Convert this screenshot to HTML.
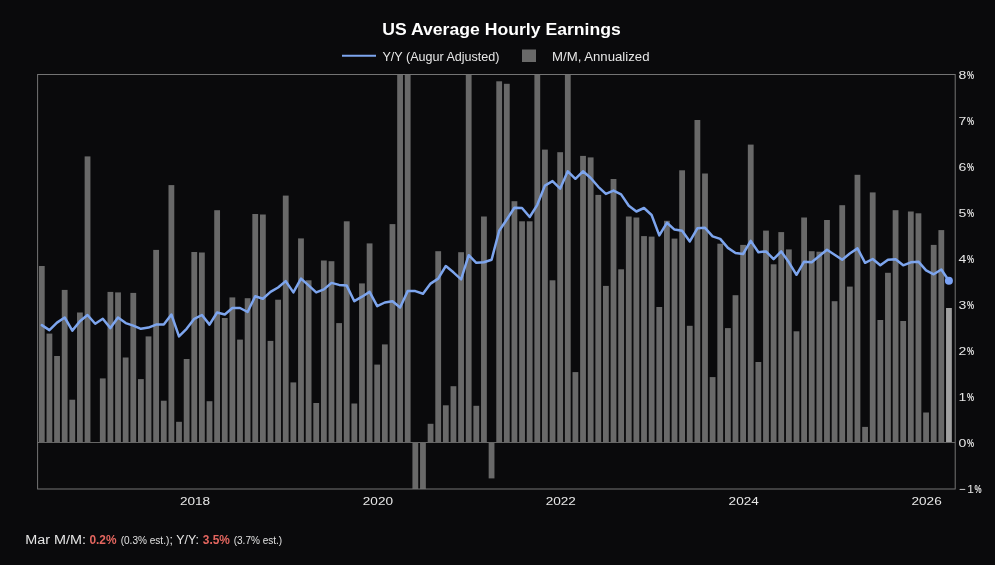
<!DOCTYPE html>
<html><head><meta charset="utf-8"><title>US Average Hourly Earnings</title>
<style>
html,body{margin:0;padding:0;background:#0a0a0c;}
body{width:995px;height:565px;overflow:hidden;font-family:"Liberation Sans", sans-serif;}
svg{display:block}
text{font-family:"Liberation Sans", sans-serif;}
.ax{font-size:11.6px;fill:#e6e6e6;}
.pc{font-weight:bold;}
.title{font-size:17px;font-weight:bold;fill:#ffffff;}
.lg{font-size:13px;fill:#e6e6e6;}
.ft{font-size:12.5px;fill:#e6e6e6;}
.red{fill:#e4665f;font-weight:bold;}
.sm{font-size:10px;fill:#e0e0e0;}
</style></head><body>
<svg width="995" height="565" viewBox="0 0 995 565">
<rect width="995" height="565" fill="#0a0a0c"/>
<text x="501.5" y="34.5" text-anchor="middle" class="title" textLength="238.5" lengthAdjust="spacingAndGlyphs">US Average Hourly Earnings</text>
<line x1="342" y1="55.8" x2="376" y2="55.8" stroke="#7da5ee" stroke-width="2"/>
<text x="382.5" y="60.5" class="lg" textLength="117" lengthAdjust="spacingAndGlyphs">Y/Y (Augur Adjusted)</text>
<rect x="522" y="49.5" width="14" height="12.5" fill="#696969"/>
<text x="552" y="60.5" class="lg" textLength="97.5" lengthAdjust="spacingAndGlyphs">M/M, Annualized</text>
<g shape-rendering="auto">
<rect x="38.90" y="266.00" width="5.8" height="176.50" fill="#696969"/>
<rect x="46.52" y="333.60" width="5.8" height="108.90" fill="#696969"/>
<rect x="54.15" y="356.00" width="5.8" height="86.50" fill="#696969"/>
<rect x="61.77" y="289.90" width="5.8" height="152.60" fill="#696969"/>
<rect x="69.39" y="399.70" width="5.8" height="42.80" fill="#696969"/>
<rect x="77.01" y="312.50" width="5.8" height="130.00" fill="#696969"/>
<rect x="84.64" y="156.40" width="5.8" height="286.10" fill="#696969"/>
<rect x="99.88" y="378.40" width="5.8" height="64.10" fill="#696969"/>
<rect x="107.51" y="291.90" width="5.8" height="150.60" fill="#696969"/>
<rect x="115.13" y="292.40" width="5.8" height="150.10" fill="#696969"/>
<rect x="122.75" y="357.50" width="5.8" height="85.00" fill="#696969"/>
<rect x="130.38" y="292.90" width="5.8" height="149.60" fill="#696969"/>
<rect x="138.00" y="379.10" width="5.8" height="63.40" fill="#696969"/>
<rect x="145.62" y="336.40" width="5.8" height="106.10" fill="#696969"/>
<rect x="153.24" y="249.90" width="5.8" height="192.60" fill="#696969"/>
<rect x="160.87" y="400.70" width="5.8" height="41.80" fill="#696969"/>
<rect x="168.49" y="185.10" width="5.8" height="257.40" fill="#696969"/>
<rect x="176.11" y="421.80" width="5.8" height="20.70" fill="#696969"/>
<rect x="183.74" y="359.00" width="5.8" height="83.50" fill="#696969"/>
<rect x="191.36" y="252.00" width="5.8" height="190.50" fill="#696969"/>
<rect x="198.98" y="252.50" width="5.8" height="190.00" fill="#696969"/>
<rect x="206.61" y="401.20" width="5.8" height="41.30" fill="#696969"/>
<rect x="214.23" y="210.20" width="5.8" height="232.30" fill="#696969"/>
<rect x="221.85" y="318.00" width="5.8" height="124.50" fill="#696969"/>
<rect x="229.47" y="297.40" width="5.8" height="145.10" fill="#696969"/>
<rect x="237.10" y="339.60" width="5.8" height="102.90" fill="#696969"/>
<rect x="244.72" y="298.20" width="5.8" height="144.30" fill="#696969"/>
<rect x="252.34" y="214.00" width="5.8" height="228.50" fill="#696969"/>
<rect x="259.97" y="214.50" width="5.8" height="228.00" fill="#696969"/>
<rect x="267.59" y="340.90" width="5.8" height="101.60" fill="#696969"/>
<rect x="275.21" y="299.70" width="5.8" height="142.80" fill="#696969"/>
<rect x="282.84" y="195.60" width="5.8" height="246.90" fill="#696969"/>
<rect x="290.46" y="382.40" width="5.8" height="60.10" fill="#696969"/>
<rect x="298.08" y="238.40" width="5.8" height="204.10" fill="#696969"/>
<rect x="305.71" y="280.30" width="5.8" height="162.20" fill="#696969"/>
<rect x="313.33" y="403.00" width="5.8" height="39.50" fill="#696969"/>
<rect x="320.95" y="260.50" width="5.8" height="182.00" fill="#696969"/>
<rect x="328.57" y="261.20" width="5.8" height="181.30" fill="#696969"/>
<rect x="336.20" y="323.10" width="5.8" height="119.40" fill="#696969"/>
<rect x="343.82" y="221.30" width="5.8" height="221.20" fill="#696969"/>
<rect x="351.44" y="403.50" width="5.8" height="39.00" fill="#696969"/>
<rect x="359.07" y="283.40" width="5.8" height="159.10" fill="#696969"/>
<rect x="366.69" y="243.40" width="5.8" height="199.10" fill="#696969"/>
<rect x="374.31" y="364.60" width="5.8" height="77.90" fill="#696969"/>
<rect x="381.94" y="344.40" width="5.8" height="98.10" fill="#696969"/>
<rect x="389.56" y="224.10" width="5.8" height="218.40" fill="#696969"/>
<rect x="397.18" y="74.50" width="5.8" height="368.00" fill="#696969"/>
<rect x="404.80" y="74.50" width="5.8" height="368.00" fill="#696969"/>
<rect x="412.43" y="442.50" width="5.8" height="46.50" fill="#696969"/>
<rect x="420.05" y="442.50" width="5.8" height="46.50" fill="#696969"/>
<rect x="427.67" y="423.80" width="5.8" height="18.70" fill="#696969"/>
<rect x="435.30" y="251.20" width="5.8" height="191.30" fill="#696969"/>
<rect x="442.92" y="405.30" width="5.8" height="37.20" fill="#696969"/>
<rect x="450.54" y="386.20" width="5.8" height="56.30" fill="#696969"/>
<rect x="458.17" y="252.20" width="5.8" height="190.30" fill="#696969"/>
<rect x="465.79" y="74.50" width="5.8" height="368.00" fill="#696969"/>
<rect x="473.41" y="405.80" width="5.8" height="36.70" fill="#696969"/>
<rect x="481.03" y="216.50" width="5.8" height="226.00" fill="#696969"/>
<rect x="488.66" y="442.50" width="5.8" height="35.90" fill="#696969"/>
<rect x="496.28" y="81.30" width="5.8" height="361.20" fill="#696969"/>
<rect x="503.90" y="83.80" width="5.8" height="358.70" fill="#696969"/>
<rect x="511.53" y="201.20" width="5.8" height="241.30" fill="#696969"/>
<rect x="519.15" y="221.30" width="5.8" height="221.20" fill="#696969"/>
<rect x="526.77" y="221.30" width="5.8" height="221.20" fill="#696969"/>
<rect x="534.39" y="74.50" width="5.8" height="368.00" fill="#696969"/>
<rect x="542.02" y="149.60" width="5.8" height="292.90" fill="#696969"/>
<rect x="549.64" y="280.30" width="5.8" height="162.20" fill="#696969"/>
<rect x="557.26" y="152.20" width="5.8" height="290.30" fill="#696969"/>
<rect x="564.89" y="74.50" width="5.8" height="368.00" fill="#696969"/>
<rect x="572.51" y="372.10" width="5.8" height="70.40" fill="#696969"/>
<rect x="580.13" y="155.90" width="5.8" height="286.60" fill="#696969"/>
<rect x="587.76" y="157.40" width="5.8" height="285.10" fill="#696969"/>
<rect x="595.38" y="194.90" width="5.8" height="247.60" fill="#696969"/>
<rect x="603.00" y="285.90" width="5.8" height="156.60" fill="#696969"/>
<rect x="610.62" y="179.00" width="5.8" height="263.50" fill="#696969"/>
<rect x="618.25" y="269.30" width="5.8" height="173.20" fill="#696969"/>
<rect x="625.87" y="216.50" width="5.8" height="226.00" fill="#696969"/>
<rect x="633.49" y="217.50" width="5.8" height="225.00" fill="#696969"/>
<rect x="641.12" y="236.10" width="5.8" height="206.40" fill="#696969"/>
<rect x="648.74" y="236.60" width="5.8" height="205.90" fill="#696969"/>
<rect x="656.36" y="307.00" width="5.8" height="135.50" fill="#696969"/>
<rect x="663.99" y="220.80" width="5.8" height="221.70" fill="#696969"/>
<rect x="671.61" y="238.60" width="5.8" height="203.90" fill="#696969"/>
<rect x="679.23" y="170.30" width="5.8" height="272.20" fill="#696969"/>
<rect x="686.86" y="325.80" width="5.8" height="116.70" fill="#696969"/>
<rect x="694.48" y="120.00" width="5.8" height="322.50" fill="#696969"/>
<rect x="702.10" y="173.50" width="5.8" height="269.00" fill="#696969"/>
<rect x="709.72" y="377.10" width="5.8" height="65.40" fill="#696969"/>
<rect x="717.35" y="243.70" width="5.8" height="198.80" fill="#696969"/>
<rect x="724.97" y="328.10" width="5.8" height="114.40" fill="#696969"/>
<rect x="732.59" y="295.20" width="5.8" height="147.30" fill="#696969"/>
<rect x="740.22" y="244.90" width="5.8" height="197.60" fill="#696969"/>
<rect x="747.84" y="144.60" width="5.8" height="297.90" fill="#696969"/>
<rect x="755.46" y="362.00" width="5.8" height="80.50" fill="#696969"/>
<rect x="763.09" y="230.60" width="5.8" height="211.90" fill="#696969"/>
<rect x="770.71" y="264.30" width="5.8" height="178.20" fill="#696969"/>
<rect x="778.33" y="232.10" width="5.8" height="210.40" fill="#696969"/>
<rect x="785.95" y="249.40" width="5.8" height="193.10" fill="#696969"/>
<rect x="793.58" y="331.30" width="5.8" height="111.20" fill="#696969"/>
<rect x="801.20" y="217.50" width="5.8" height="225.00" fill="#696969"/>
<rect x="808.82" y="251.20" width="5.8" height="191.30" fill="#696969"/>
<rect x="816.45" y="251.70" width="5.8" height="190.80" fill="#696969"/>
<rect x="824.07" y="220.00" width="5.8" height="222.50" fill="#696969"/>
<rect x="831.69" y="301.20" width="5.8" height="141.30" fill="#696969"/>
<rect x="839.32" y="205.20" width="5.8" height="237.30" fill="#696969"/>
<rect x="846.94" y="286.60" width="5.8" height="155.90" fill="#696969"/>
<rect x="854.56" y="174.80" width="5.8" height="267.70" fill="#696969"/>
<rect x="862.18" y="426.90" width="5.8" height="15.60" fill="#696969"/>
<rect x="869.81" y="192.40" width="5.8" height="250.10" fill="#696969"/>
<rect x="877.43" y="320.00" width="5.8" height="122.50" fill="#696969"/>
<rect x="885.05" y="272.80" width="5.8" height="169.70" fill="#696969"/>
<rect x="892.68" y="210.20" width="5.8" height="232.30" fill="#696969"/>
<rect x="900.30" y="321.00" width="5.8" height="121.50" fill="#696969"/>
<rect x="907.92" y="211.50" width="5.8" height="231.00" fill="#696969"/>
<rect x="915.54" y="213.30" width="5.8" height="229.20" fill="#696969"/>
<rect x="923.17" y="412.50" width="5.8" height="30.00" fill="#696969"/>
<rect x="930.79" y="244.90" width="5.8" height="197.60" fill="#696969"/>
<rect x="938.41" y="230.10" width="5.8" height="212.40" fill="#696969"/>
<rect x="946.04" y="308.00" width="5.8" height="134.50" fill="#a0a0a0"/>
</g>
<line x1="37.6" y1="442.5" x2="955.2" y2="442.5" stroke="#666666" stroke-width="1"/>
<rect x="37.6" y="74.5" width="917.6" height="414.5" fill="none" stroke="#747474" stroke-width="1"/>
<polyline points="41.8,325.1 49.4,330.1 57.0,322.6 64.7,317.5 72.3,330.6 79.9,321.3 87.5,315.0 95.2,323.8 102.8,318.8 110.4,328.1 118.0,317.5 125.7,323.1 133.3,325.6 140.9,328.8 148.5,327.6 156.1,324.6 163.8,324.6 171.4,314.5 179.0,336.4 186.6,328.8 194.3,318.8 201.9,315.0 209.5,324.6 217.1,312.5 224.8,314.5 232.4,308.0 240.0,308.0 247.6,312.0 255.2,296.2 262.9,298.7 270.5,291.9 278.1,287.5 285.7,281.1 293.4,292.4 301.0,278.6 308.6,285.4 316.2,292.4 323.9,289.4 331.5,282.9 339.1,284.9 346.7,285.6 354.3,301.2 362.0,296.7 369.6,291.9 377.2,306.2 384.8,302.5 392.5,301.2 400.1,307.5 407.7,291.1 415.3,291.1 423.0,293.7 430.6,283.6 438.2,278.6 445.8,266.0 453.4,272.3 461.1,279.3 468.7,255.2 476.3,262.8 483.9,262.3 491.6,259.7 499.2,230.8 506.8,219.5 514.4,207.8 522.0,208.0 529.7,217.0 537.3,204.8 544.9,185.6 552.5,181.1 560.2,188.6 567.8,171.3 575.4,178.8 583.0,171.3 590.7,178.0 598.3,186.8 605.9,193.9 613.5,190.6 621.1,194.4 628.8,205.7 636.4,211.5 644.0,208.0 651.6,215.0 659.3,235.4 666.9,222.8 674.5,229.6 682.1,230.8 689.8,241.4 697.4,228.3 705.0,227.8 712.6,236.4 720.2,238.9 727.9,247.9 735.5,253.0 743.1,254.0 750.7,240.9 758.4,252.2 766.0,251.4 773.6,259.2 781.2,251.4 788.9,262.3 796.5,274.8 804.1,261.7 811.7,262.3 819.3,256.0 827.0,249.7 834.6,254.7 842.2,259.7 849.8,253.5 857.5,248.4 865.1,262.8 872.7,259.0 880.3,265.3 888.0,259.7 895.6,259.2 903.2,265.3 910.8,262.3 918.4,261.7 926.1,270.4 933.7,274.3 941.3,269.5 948.9,280.8" fill="none" stroke="#7da5ee" stroke-width="2.5" stroke-linejoin="round" stroke-linecap="round"/>
<circle cx="948.9" cy="280.8" r="4" fill="#7aa2f5"/>
<text y="79.3" class="ax"><tspan x="958.5" textLength="7.8" lengthAdjust="spacingAndGlyphs">8</tspan><tspan x="966.9" class="pc" textLength="7.1" lengthAdjust="spacingAndGlyphs">%</tspan></text>
<text y="125.3" class="ax"><tspan x="958.5" textLength="7.8" lengthAdjust="spacingAndGlyphs">7</tspan><tspan x="966.9" class="pc" textLength="7.1" lengthAdjust="spacingAndGlyphs">%</tspan></text>
<text y="171.3" class="ax"><tspan x="958.5" textLength="7.8" lengthAdjust="spacingAndGlyphs">6</tspan><tspan x="966.9" class="pc" textLength="7.1" lengthAdjust="spacingAndGlyphs">%</tspan></text>
<text y="217.3" class="ax"><tspan x="958.5" textLength="7.8" lengthAdjust="spacingAndGlyphs">5</tspan><tspan x="966.9" class="pc" textLength="7.1" lengthAdjust="spacingAndGlyphs">%</tspan></text>
<text y="263.3" class="ax"><tspan x="958.5" textLength="7.8" lengthAdjust="spacingAndGlyphs">4</tspan><tspan x="966.9" class="pc" textLength="7.1" lengthAdjust="spacingAndGlyphs">%</tspan></text>
<text y="309.3" class="ax"><tspan x="958.5" textLength="7.8" lengthAdjust="spacingAndGlyphs">3</tspan><tspan x="966.9" class="pc" textLength="7.1" lengthAdjust="spacingAndGlyphs">%</tspan></text>
<text y="355.3" class="ax"><tspan x="958.5" textLength="7.8" lengthAdjust="spacingAndGlyphs">2</tspan><tspan x="966.9" class="pc" textLength="7.1" lengthAdjust="spacingAndGlyphs">%</tspan></text>
<text y="401.3" class="ax"><tspan x="958.5" textLength="7.8" lengthAdjust="spacingAndGlyphs">1</tspan><tspan x="966.9" class="pc" textLength="7.1" lengthAdjust="spacingAndGlyphs">%</tspan></text>
<text y="447.3" class="ax"><tspan x="958.5" textLength="7.8" lengthAdjust="spacingAndGlyphs">0</tspan><tspan x="966.9" class="pc" textLength="7.1" lengthAdjust="spacingAndGlyphs">%</tspan></text>
<text y="492.8" class="ax"><tspan x="959.2" textLength="6.6" lengthAdjust="spacingAndGlyphs">−</tspan><tspan x="967.2" textLength="6.6" lengthAdjust="spacingAndGlyphs">1</tspan><tspan x="974.4" class="pc" textLength="7.1" lengthAdjust="spacingAndGlyphs">%</tspan></text>
<text x="179.9" y="505" class="ax" textLength="30.2" lengthAdjust="spacingAndGlyphs">2018</text>
<text x="362.8" y="505" class="ax" textLength="30.2" lengthAdjust="spacingAndGlyphs">2020</text>
<text x="545.7" y="505" class="ax" textLength="30.2" lengthAdjust="spacingAndGlyphs">2022</text>
<text x="728.6" y="505" class="ax" textLength="30.2" lengthAdjust="spacingAndGlyphs">2024</text>
<text x="911.5" y="505" class="ax" textLength="30.2" lengthAdjust="spacingAndGlyphs">2026</text>
<text y="544.0" class="ft"><tspan x="25.2" textLength="60.7" lengthAdjust="spacingAndGlyphs">Mar M/M:</tspan> <tspan x="89.4" class="red" textLength="27.1" lengthAdjust="spacingAndGlyphs">0.2%</tspan> <tspan x="120.7" class="sm" textLength="48.6" lengthAdjust="spacingAndGlyphs">(0.3% est.)</tspan><tspan x="169.6" textLength="29.4" lengthAdjust="spacingAndGlyphs">; Y/Y:</tspan> <tspan x="202.8" class="red" textLength="27.1" lengthAdjust="spacingAndGlyphs">3.5%</tspan> <tspan x="233.7" class="sm" textLength="48.5" lengthAdjust="spacingAndGlyphs">(3.7% est.)</tspan></text>
</svg>
</body></html>
